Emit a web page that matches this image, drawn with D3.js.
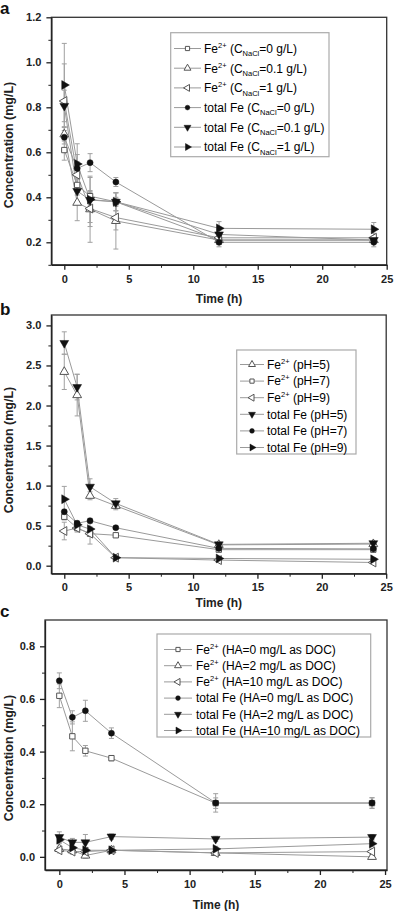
<!DOCTYPE html>
<html>
<head>
<meta charset="utf-8">
<script src="https://cdn.jsdelivr.net/npm/d3@7"></script>
<style>
body{margin:0;background:#fff;}
svg{display:block;font-family:"Liberation Sans",Arial,sans-serif;}
.axis text{font-size:11px;font-weight:bold;fill:#222;}
.axis path,.axis line{stroke:#222;stroke-width:1.3;}
.minor line{stroke:#222;stroke-width:1;}
.minor path{display:none;}
.series-line{fill:none;stroke:#9a9a9a;stroke-width:1;}
.err line{stroke:#a0a0a0;stroke-width:1;}
.legend-box{fill:#fff;stroke:#aaa;stroke-width:1.2;}
.legend text{font-size:12px;fill:#000;}
</style>
</head>
<body>
<div id="chart"></div>
<script>
// sampling times (h), shared by all three panels
var times = [0, 1, 2, 4, 12, 24];

// ---- panel a : NaCl ----
var aFe0   = [0.61, 0.455, 0.405, 0.38, 0.21, 0.21];
var aFe01  = [0.68, 0.376, 0.347, 0.295, 0.21, 0.21];
var aFe1   = [0.828, 0.50, 0.35, 0.31, 0.22, 0.22];
var aTot0  = [0.667, 0.528, 0.554, 0.468, 0.20, 0.20];
var aTot01 = [0.806, 0.428, 0.388, 0.38, 0.235, 0.21];
var aTot1  = [0.899, 0.548, 0.39, 0.38, 0.262, 0.258];
var aErrFe0   = [0.045, 0.03, 0.02, 0.02, 0.02, 0.01];
var aErrFe01  = [0.03, 0.08, 0.147, 0.125, 0.02, 0.01];
var aErrFe1   = [0.165, 0.09, 0.08, 0.055, 0.02, 0.02];
var aErrTot0  = [0.03, 0.03, 0.04, 0.02, 0.02, 0.02];
var aErrTot01 = [0.07, 0.05, 0.10, 0.04, 0.02, 0.01];
var aErrTot1  = [0.185, 0.09, 0.03, 0.04, 0.03, 0.03];
var aLabels = ["Fe^{2+} (C_{NaCl}=0 g/L)", "Fe^{2+} (C_{NaCl}=0.1 g/L)", "Fe^{2+} (C_{NaCl}=1 g/L)",
  "total Fe (C_{NaCl}=0 g/L)", "total Fe (C_{NaCl}=0.1 g/L)", "total Fe (C_{NaCl}=1 g/L)"];

// ---- panel b : pH ----
var bFe5  = [2.42, 2.13, 0.873, 0.748, 0.26, 0.27];
var bFe7  = [0.611, 0.47, 0.40, 0.38, 0.20, 0.20];
var bFe9  = [0.433, 0.47, 0.40, 0.10, 0.07, 0.04];
var bTot5 = [2.78, 2.23, 0.985, 0.778, 0.266, 0.28];
var bTot7 = [0.673, 0.53, 0.561, 0.474, 0.216, 0.21];
var bTot9 = [0.83, 0.51, 0.457, 0.10, 0.09, 0.08];
var bErrFe5  = [0.22, 0.26, 0.05, 0.05, 0.02, 0.02];
var bErrFe7  = [0.04, 0.03, 0.03, 0.02, 0.01, 0.01];
var bErrFe9  = [0.11, 0.05, 0.13, 0.02, 0.01, 0.01];
var bErrTot5 = [0.14, 0.16, 0.10, 0.06, 0.02, 0.02];
var bErrTot7 = [0.03, 0.03, 0.03, 0.02, 0.02, 0.02];
var bErrTot9 = [0.16, 0.04, 0.03, 0.02, 0.01, 0.01];
var bLabels = ["Fe^{2+} (pH=5)", "Fe^{2+} (pH=7)", "Fe^{2+} (pH=9)",
  "total Fe (pH=5)", "total Fe (pH=7)", "total Fe (pH=9)"];

// ---- panel c : humic acid ----
var cFe0   = [0.612, 0.458, 0.403, 0.375, 0.204, 0.204];
var cFe2   = [0.03, 0.025, 0.005, 0.025, 0.015, 0.0];
var cFe10  = [0.025, 0.02, 0.02, 0.025, 0.015, 0.02];
var cTot0  = [0.669, 0.53, 0.555, 0.47, 0.205, 0.205];
var cTot2  = [0.075, 0.055, 0.055, 0.077, 0.068, 0.075];
var cTot10 = [0.065, 0.035, 0.025, 0.025, 0.03, 0.05];
var cErrFe0   = [0.045, 0.055, 0.02, 0.01, 0.02, 0.02];
var cErrFe2   = [0.01, 0.01, 0.01, 0.01, 0.01, 0.01];
var cErrFe10  = [0.01, 0.01, 0.01, 0.01, 0.01, 0.01];
var cErrTot0  = [0.03, 0.025, 0.04, 0.02, 0.035, 0.02];
var cErrTot2  = [0.02, 0.015, 0.03, 0.01, 0.01, 0.01];
var cErrTot10 = [0.015, 0.015, 0.01, 0.01, 0.01, 0.01];
var cLabels = ["Fe^{2+} (HA=0 mg/L as DOC)", "Fe^{2+} (HA=2 mg/L as DOC)", "Fe^{2+} (HA=10 mg/L as DOC)",
  "total Fe (HA=0 mg/L as DOC)", "total Fe (HA=2 mg/L as DOC)", "total Fe (HA=10 mg/L as DOC)"];

var W = 394, H = 911;
var svg = d3.select("#chart").append("svg").attr("width", W).attr("height", H);

// marker shapes: [d3 symbol, rotation, filled]
var shapes = {
  square:   [d3.symbolSquare, 0, false],
  up:       [d3.symbolTriangle, 0, false],
  left:     [d3.symbolTriangle, -90, false],
  circle:   [d3.symbolCircle, 0, true],
  down:     [d3.symbolTriangle, 180, true],
  right:    [d3.symbolTriangle, 90, true]
};

function drawMarker(g, shape, x, y, size){
	var s = shapes[shape];
	var sz = s[0] === d3.symbolTriangle ? size * 1.3 : size * 1.1;
	g.append("path")
		.attr("d", d3.symbol().type(s[0]).size(sz)())
		.attr("transform", "translate(" + x + "," + y + ") rotate(" + s[1] + ")")
		.attr("fill", s[2] ? "#111" : "#fff")
		.attr("stroke", s[2] ? "#111" : "#555")
		.attr("stroke-width", s[2] ? 0.5 : 1);
}

// text with ^{sup} and _{sub} parts
function richText(text, str){
	var shift = 0;
	str.split(/(\^\{[^}]*\}|_\{[^}]*\})/).filter(function(p){ return p.length; }).forEach(function(p){
		var target = 0, size = null;
		if(p[0] === "^"){ target = -5; size = 7.5; p = p.slice(2, -1); }
		else if(p[0] === "_"){ target = 3.5; size = 7.5; p = p.slice(2, -1); }
		var t = text.append("tspan").attr("dy", target - shift).text(p);
		if(size) t.style("font-size", size + "px");
		shift = target;
	});
}

function drawPanel(o){
	var x = d3.scaleLinear().domain(o.xDomain).range(o.xRange);
	var y = d3.scaleLinear().domain(o.yDomain).range(o.yRange);
	var g = svg.append("g");

	// frame
	g.append("rect")
		.attr("x", o.xRange[0]).attr("y", o.yRange[1])
		.attr("width", o.xRange[1] - o.xRange[0]).attr("height", o.yRange[0] - o.yRange[1])
		.attr("fill", "none").attr("stroke", "#333").attr("stroke-width", 1.3);

	// axes
	g.append("g").attr("class", "axis")
		.attr("transform", "translate(0," + o.yRange[0] + ")")
		.call(d3.axisBottom(x).tickValues(d3.range(0, 26, 5)).tickSize(5).tickSizeOuter(0).tickPadding(5).tickFormat(d3.format("d")));
	g.append("g").attr("class", "axis minor")
		.attr("transform", "translate(0," + o.yRange[0] + ")")
		.call(d3.axisBottom(x).tickValues(d3.range(2.5, 25, 5)).tickSize(3).tickFormat(""));
	g.append("g").attr("class", "axis")
		.attr("transform", "translate(" + o.xRange[0] + ",0)")
		.call(d3.axisLeft(y).tickValues(o.yTicks).tickSize(5).tickSizeOuter(0).tickPadding(5).tickFormat(d3.format(".1f")));
	g.append("g").attr("class", "axis minor")
		.attr("transform", "translate(" + o.xRange[0] + ",0)")
		.call(d3.axisLeft(y).tickValues(o.yMinor).tickSize(3).tickFormat(""));

	// titles
	g.append("text")
		.attr("x", (o.xRange[0] + o.xRange[1]) / 2).attr("y", o.xTitleY)
		.attr("text-anchor", "middle")
		.style("font-size", "12px").style("font-weight", "bold").attr("fill", "#222")
		.text("Time (h)");
	g.append("text")
		.attr("transform", "translate(13," + o.yTitleY + ") rotate(-90)")
		.attr("text-anchor", "middle")
		.style("font-size", "12.5px").style("font-weight", "600").attr("fill", "#222")
		.text("Concentration (mg/L)");
	g.append("text")
		.attr("x", 0).attr("y", o.letterY)
		.style("font-size", "17px").style("font-weight", "bold").attr("fill", "#111")
		.text(o.letter);

	var line = d3.line().x(function(d, i){ return x(times[i]); }).y(function(d){ return y(d); });

	g.selectAll(".series-line")
			.data(o.series)
		.enter().append("path")
			.attr("class", "series-line")
			.attr("d", function(s){ return line(s.values); });

	// error bars
	o.series.forEach(function(s){
		s.values.forEach(function(v, i){
			var e = s.err[i], cx = x(times[i]);
			var eg = g.append("g").attr("class", "err");
			eg.append("line").attr("x1", cx).attr("x2", cx).attr("y1", y(v - e)).attr("y2", y(v + e));
			[v - e, v + e].forEach(function(c){
				eg.append("line").attr("x1", cx - 2.5).attr("x2", cx + 2.5).attr("y1", y(c)).attr("y2", y(c));
			});
		});
	});

	// markers
	o.series.forEach(function(s){
		s.values.forEach(function(v, i){
			drawMarker(g, s.shape, x(times[i]), y(v), 26);
		});
	});

	// legend
	var L = o.legend;
	var lg = g.append("g").attr("class", "legend");
	lg.append("rect").attr("class", "legend-box")
		.attr("x", L.x0).attr("y", L.y0).attr("width", L.x1 - L.x0).attr("height", L.y1 - L.y0);
	o.series.forEach(function(s, i){
		var ry = L.row0 + i * L.step;
		lg.append("line").attr("x1", L.lx0).attr("x2", L.lx1).attr("y1", ry).attr("y2", ry)
			.attr("stroke", "#9a9a9a").attr("stroke-width", 1);
		drawMarker(lg, s.shape, (L.lx0 + L.lx1) / 2, ry, 16);
		richText(lg.append("text").attr("x", L.tx).attr("y", ry + 4.3), s.label);
	});
}

function makeSeries(vals, errs, labels, order){
	return vals.map(function(v, i){
		return { values: v, err: errs[i], label: labels[i], shape: order[i] };
	});
}

var seriesA = makeSeries([aFe0, aFe01, aFe1, aTot0, aTot01, aTot1],
	[aErrFe0, aErrFe01, aErrFe1, aErrTot0, aErrTot01, aErrTot1], aLabels,
	["square", "up", "left", "circle", "down", "right"]);

// panel b lists pH=5 first: triangle up, square, left, then down, circle, right
var seriesB = makeSeries([bFe5, bFe7, bFe9, bTot5, bTot7, bTot9],
	[bErrFe5, bErrFe7, bErrFe9, bErrTot5, bErrTot7, bErrTot9], bLabels,
	["up", "square", "left", "down", "circle", "right"]);

var seriesC = makeSeries([cFe0, cFe2, cFe10, cTot0, cTot2, cTot10],
	[cErrFe0, cErrFe2, cErrFe10, cErrTot0, cErrTot2, cErrTot10], cLabels,
	["square", "up", "left", "circle", "down", "right"]);

drawPanel({
	letter: "a", letterY: 14,
	xDomain: [-1, 25], xRange: [51.4, 386.7],
	yDomain: [0.1, 1.2], yRange: [264.8, 17.3],
	yTicks: d3.range(0.2, 1.21, 0.2), yMinor: d3.range(0.1, 1.2, 0.2),
	xTitleY: 303, yTitleY: 145,
	series: seriesA,
	legend: { x0: 170.7, x1: 329, y0: 32.7, y1: 156.7, row0: 48.5, step: 19.7, lx0: 174, lx1: 201, tx: 204 }
});

drawPanel({
	letter: "b", letterY: 315,
	xDomain: [-1, 25], xRange: [51.4, 386.2],
	yDomain: [-0.1, 3.13], yRange: [573.7, 315],
	yTicks: d3.range(0, 3.01, 0.5), yMinor: d3.range(0.25, 3.1, 0.5),
	xTitleY: 607, yTitleY: 450,
	series: seriesB,
	legend: { x0: 236.7, x1: 356, y0: 350, y1: 454, row0: 364.5, step: 16.6, lx0: 240, lx1: 264, tx: 267 }
});

drawPanel({
	letter: "c", letterY: 617,
	xDomain: [-1.1, 25.15], xRange: [45, 387],
	yDomain: [-0.05, 0.9], yRange: [870, 620],
	yTicks: d3.range(0, 0.81, 0.2), yMinor: d3.range(0.1, 0.9, 0.2),
	xTitleY: 909, yTitleY: 758,
	series: seriesC,
	legend: { x0: 157, x1: 370.7, y0: 634, y1: 737, row0: 649.5, step: 16.2, lx0: 164, lx1: 192, tx: 196 }
});
</script>
</body>
</html>
